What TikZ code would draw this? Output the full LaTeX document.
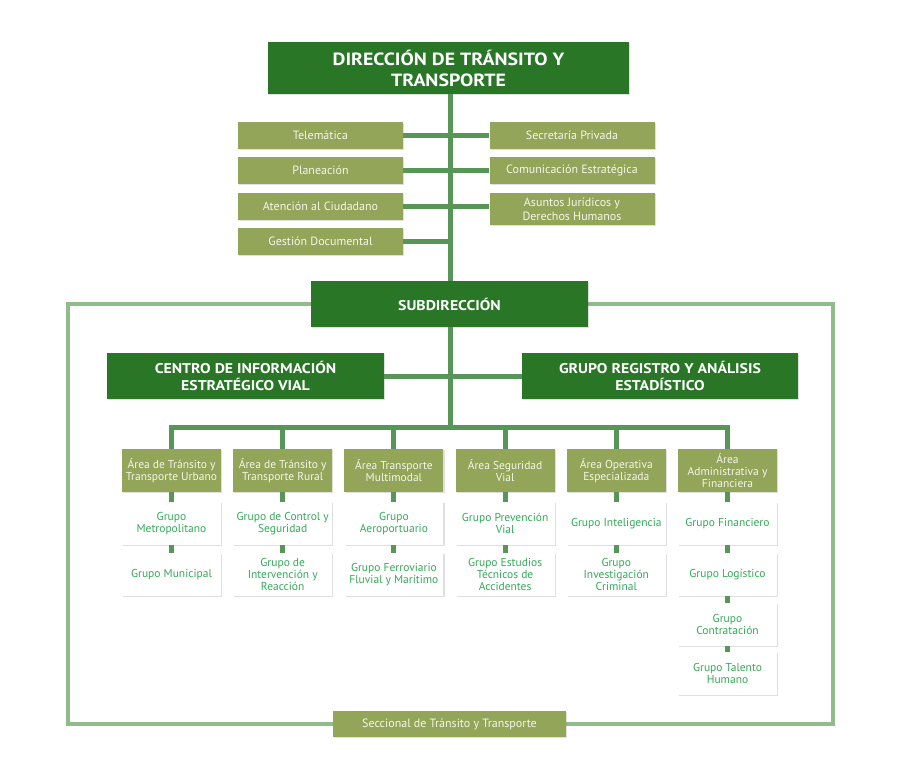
\documentclass[tikz,border=0pt]{standalone}
\usepackage{fontspec}
\setmainfont{PT Sans}
\newfontfamily\headfont{PT Sans}[FakeStretch=1.12]
\usetikzlibrary{shadows,backgrounds}

\definecolor{HeadGreen}{RGB}{40,118,38}
\definecolor{UnitOlive}{RGB}{147,165,89}
\definecolor{LinkGreen}{RGB}{88,150,88}
\definecolor{FrameGreen}{RGB}{143,188,138}
\definecolor{GroupText}{RGB}{52,170,88}
\definecolor{UnitText}{RGB}{245,246,235}

\begin{document}
\begin{tikzpicture}[x=1pt,y=-1pt,
  box/.style={inner sep=1pt,align=center,
    drop shadow={shadow xshift=1.2pt,shadow yshift=-1.2pt,opacity=0.25}},
  headbox/.style={box,fill=HeadGreen,text=white,
    font=\headfont\bfseries\fontsize{14.1}{17.5}\selectfont,minimum width=277,minimum height=46},
  unitbox/.style={box,fill=UnitOlive,text=UnitText,
    font=\fontsize{12}{13.6}\selectfont,minimum width=165,minimum height=27},
  areabox/.style={box,fill=UnitOlive,text=UnitText,
    font=\fontsize{11.5}{12}\selectfont,minimum width=99,minimum height=43},
  groupbox/.style={box,fill=white,text=GroupText,
    font=\fontsize{11.5}{12}\selectfont,minimum width=99,minimum height=43},
  link/.style={LinkGreen,line width=5pt},
  frameline/.style={FrameGreen,line width=4.5pt}]
  \useasboundingbox (0,0) rectangle (900,760);

  % direction and staff units
  \node[headbox,minimum width=361,minimum height=52,
    font=\headfont\bfseries\fontsize{17.7}{21}\selectfont] (dir) at (448.5,68)
    {DIRECCIÓN DE TRÁNSITO Y\\TRANSPORTE};
  \node[unitbox] (tele) at (320.5,135) {Telemática};
  \node[unitbox] (plan) at (320.5,170.5) {Planeación};
  \node[unitbox] (aten) at (320.5,206.5) {Atención al Ciudadano};
  \node[unitbox] (gest) at (320.5,241) {Gestión Documental};
  \node[unitbox] (secr) at (572,135) {Secretaría Privada};
  \node[unitbox] (comu) at (572,170.5) {Comunicación Estratégica};
  \node[unitbox,minimum height=32] (asun) at (572,209)
    {Asuntos Jurídicos y\\Derechos Humanos};

  % subdirection
  \node[headbox] (sub) at (449.5,304) {SUBDIRECCIÓN};
  \node[headbox] (cent) at (245.5,376) {CENTRO DE INFORMACIÓN\\ESTRATÉGICO VIAL};
  \node[headbox,minimum width=276] (greg) at (660,376)
    {GRUPO REGISTRO Y ANÁLISIS\\ESTADÍSTICO};
  \coordinate (hub) at (450,427);

  % areas and groups
  \foreach \i/\x/\txt in {
      1/171.5/{Área de Tránsito y\\Transporte Urbano},
      2/282.7/{Área de Tránsito y\\Transporte Rural},
      3/393.9/{Área Transporte\\Multimodal},
      4/505.1/{Área Seguridad\\Vial},
      5/616.3/{Área Operativa\\Especializada},
      6/727.5/{Área\\Administrativa y\\Financiera}} {
    \node[areabox] (a\i) at (\x,470.5) {\txt};
  }
  \foreach \i/\txt in {
      1/{Grupo\\Metropolitano},
      2/{Grupo de Control y\\Seguridad},
      3/{Grupo\\Aeroportuario},
      4/{Grupo Prevención\\Vial},
      5/{Grupo Inteligencia},
      6/{Grupo Financiero}} {
    \node[groupbox] (b\i) at (a\i |- 0,523.5) {\txt};
  }
  \foreach \i/\txt in {
      1/{Grupo Municipal},
      2/{Grupo de\\Intervención y\\Reacción},
      3/{Grupo Ferroviario\\Fluvial y Marítimo},
      4/{Grupo Estudios\\Técnicos de\\Accidentes},
      5/{Grupo\\Investigación\\Criminal},
      6/{Grupo Logístico}} {
    \node[groupbox] (c\i) at (a\i |- 0,574.5) {\txt};
  }
  \node[groupbox] (d6) at (a6 |- 0,624.5) {Grupo\\Contratación};
  \node[groupbox] (e6) at (a6 |- 0,673.5) {Grupo Talento\\Humano};

  \node[unitbox,minimum width=233,minimum height=26] (secc) at (449.5,724)
    {Seccional de Tránsito y Transporte};
  \coordinate (frameL) at (68,500);
  \coordinate (frameR) at (833,500);

  \begin{scope}[on background layer]
    \fill[white] (0,0) rectangle (900,760);
    \draw[frameline] (sub.west) -| (frameL) |- (secc.west);
    \draw[frameline] (sub.east) -| (frameR) |- (secc.east);
    \draw[link] (dir.south -| hub) -- (hub);
    \draw[link] (tele.east) -- (secr.west);
    \draw[link] (plan.east) -- (comu.west);
    \draw[link] (aten.east) -- (aten.east -| asun.west);
    \draw[link] (gest.east) -- (gest.east -| hub);
    \draw[link] (cent.east) -- (greg.west);
    \draw[link] (c1.north) -- (a1.north |- hub) -- (a6.north |- hub) -- (e6.north);
    \foreach \i in {2,...,5}
      \draw[link] (a\i.north |- hub) -- (c\i.north);
  \end{scope}
\end{tikzpicture}
\end{document}
